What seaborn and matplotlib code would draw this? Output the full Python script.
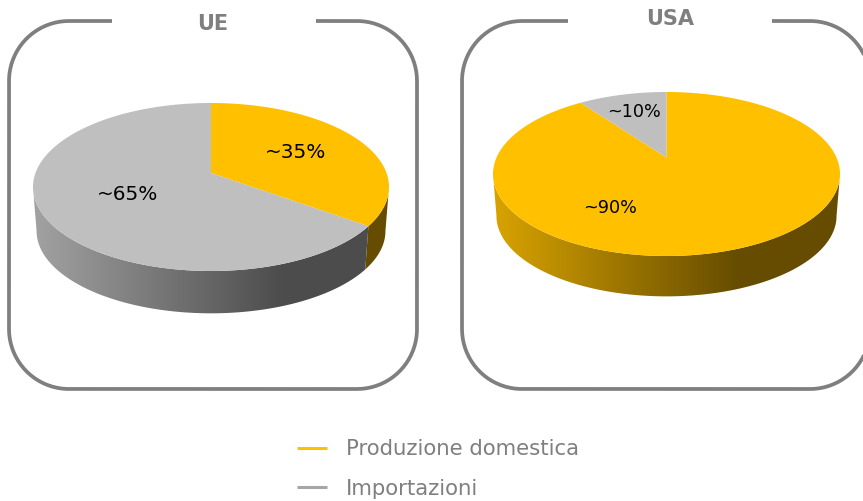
import numpy as np
import matplotlib
matplotlib.use('Agg')
import matplotlib.pyplot as plt
from matplotlib.colors import LinearSegmentedColormap
from matplotlib.lines import Line2D
from matplotlib.patches import PathPatch
from matplotlib.path import Path
import seaborn as sns

# Data
series = ['Produzione domestica', 'Importazioni']
ue_values = [35, 65]
usa_values = [90, 10]
ue_labels = ['~35%', '~65%']
usa_labels = ['~90%', '~10%']

sns.set_theme(style='white')
plt.rcParams['font.family'] = ['DejaVu Sans']

colors = sns.color_palette(['#ffc000', '#bfbfbf'])
legend_colors = ['#ffc000', '#a6a6a6']
frame_color = '#7f7f7f'


def project(theta, pie, scale=1.0, shift=0.0):
    # circle -> ellipse with the perspective of a tilted 3D pie
    u, v = np.sin(theta), -np.cos(theta)
    b = pie['apex_off'] / pie['ry']
    r = pie['rx'] * np.sqrt(1 - b ** 2)
    d = 1 + b * v
    x = pie['cx'] + scale * r * u / d
    y = pie['cy'] + shift + scale * (pie['ry'] * v + pie['apex_off']) / d
    return x, y


def draw_pie(ax, pie, values, labels):
    fractions = np.array(values) / sum(values)
    edges = np.concatenate([[0], np.cumsum(fractions)]) * 2 * np.pi
    # angle where the outline is widest, the wall is visible between these two
    widest = np.arccos(pie['apex_off'] / pie['ry'])

    # side wall first
    for i, color in enumerate(colors):
        start = max(edges[i], widest)
        end = min(edges[i + 1], 2 * np.pi - widest)
        if end <= start:
            continue
        t = np.linspace(start, end, 200)
        x1, y1 = project(t, pie)
        x2, y2 = project(t[::-1], pie, pie['bottom_scale'], pie['depth'])
        verts = np.column_stack([np.r_[x1, x2], np.r_[y1, y2]])
        patch = PathPatch(Path(np.vstack([verts, verts[0]]), closed=True),
                          fc='none', ec='none')
        ax.add_patch(patch)
        base = np.array(color)
        cmap = LinearSegmentedColormap.from_list(
            'side', [(0, base * 0.85), (0.7, base * 0.4), (1, base * 0.4)])
        left, right = pie['cx'] - pie['rx'], pie['cx'] + pie['rx']
        img = ax.imshow(np.linspace(0, 1, 256)[None, :], cmap=cmap, aspect='auto',
                        extent=[left, right, 400, 0], zorder=2)
        img.set_clip_path(patch)

    # top face
    for i, color in enumerate(colors):
        t = np.linspace(edges[i], edges[i + 1], 300)
        x, y = project(t, pie)
        ax.fill(np.r_[pie['cx'], x], np.r_[pie['cy'] + pie['apex_off'], y],
                color=color, lw=0, zorder=3)

    for label, pos in zip(labels, pie['label_pos']):
        ax.text(pos[0], pos[1], label, ha='center', va='center', color='black',
                fontsize=pie['label_size'], zorder=4)


def draw_frame(ax, left, right, gap_left, gap_right, top=21, bottom=389, r=60):
    arc = np.linspace(0, np.pi / 2, 40)
    xs = np.r_[gap_right, right - r + r * np.sin(arc), right - r + r * np.cos(arc),
               left + r - r * np.sin(arc), left + r - r * np.cos(arc), gap_left]
    ys = np.r_[top, top + r - r * np.cos(arc), bottom - r + r * np.sin(arc),
               bottom - r + r * np.cos(arc), top + r - r * np.sin(arc), top]
    sns.lineplot(x=xs, y=ys, sort=False, estimator=None, color=frame_color,
                 linewidth=2.7, ax=ax, solid_capstyle='butt', zorder=1)


fig = plt.figure(figsize=(8.63, 5.01), dpi=100)
ax = fig.add_axes([0, 0, 1, 1])

ue_pie = dict(cx=211, cy=187, rx=178, ry=84, apex_off=-14, depth=44, bottom_scale=0.98,
              label_pos=[(296, 153), (128, 195)], label_size=14.4)
usa_pie = dict(cx=666.5, cy=174, rx=173.5, ry=82, apex_off=-16.5, depth=42, bottom_scale=0.98,
               label_pos=[(610, 208), (634, 112)], label_size=12.7)

draw_frame(ax, 9, 417, 112, 316)
draw_frame(ax, 462, 870, 568, 772)
draw_pie(ax, ue_pie, ue_values, ue_labels)
draw_pie(ax, usa_pie, usa_values, usa_labels)

ax.text(213, 24, 'UE', ha='center', va='center', color=frame_color,
        fontsize=15, fontweight='bold')
ax.text(670, 19, 'USA', ha='center', va='center', color=frame_color,
        fontsize=15, fontweight='bold')

handles = [Line2D([], [], color=c, lw=2.2, solid_capstyle='butt') for c in legend_colors]
ax.legend(handles, series, loc='upper left', bbox_to_anchor=(297, 439),
          bbox_transform=ax.transData, frameon=False, fontsize=15.3,
          labelcolor=frame_color, handlelength=1.41, handletextpad=0.88,
          labelspacing=0.93, borderpad=0, borderaxespad=0)

ax.set_xlim(0, 863)
ax.set_ylim(501, 0)
ax.set_xlabel('')
ax.set_ylabel('')
ax.axis('off')

fig.savefig('out.png', dpi=100, facecolor='white')
